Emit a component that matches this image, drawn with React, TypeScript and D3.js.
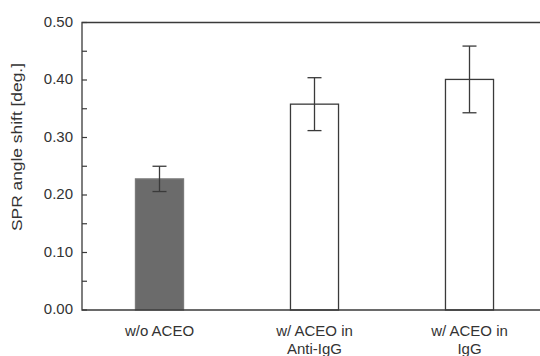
import React, { useRef, useEffect } from "react";
import * as d3 from "d3";

// данные с графика
const categories = [["w/o ACEO"], ["w/ ACEO in", "Anti-IgG"], ["w/ ACEO in", "IgG"]];
const values = [0.228, 0.358, 0.401];
const errors = [0.022, 0.046, 0.058];
const fills = ["#6b6b6b", "#ffffff", "#ffffff"];
const yTicks = [0, 0.1, 0.2, 0.3, 0.4, 0.5];

const App = () => {
    const svgRef = useRef<SVGSVGElement>(null);

    useEffect(() => {
        const svg = d3.select(svgRef.current);
        svg.selectAll("*").remove();

        const width = 540;
        const height = 356;
        const left = 82;
        const top = 22.5;
        const bottom = 310;
        const right = 547;
        const ink = "#3a3a3a";
        const font = "Arial, 'Liberation Sans', sans-serif";

        const x = d3.scaleLinear().domain([0.5, 3.5]).range([left, right]);
        const y = d3.scaleLinear().domain([0, 0.5]).range([bottom, top]);
        const barW = 0.31;

        svg.attr("width", width).attr("height", height);
        svg.append("rect").attr("width", width).attr("height", height).attr("fill", "#fff");

        // бары
        svg.append("g")
            .selectAll("rect")
            .data(values)
            .enter()
            .append("rect")
            .attr("x", (d, i) => x(i + 1 - barW / 2))
            .attr("y", d => y(d))
            .attr("width", x(1 + barW) - x(1))
            .attr("height", d => y(0) - y(d))
            .attr("fill", (d, i) => fills[i])
            .attr("stroke", (d, i) => (i === 0 ? "#7a7a7a" : ink))
            .attr("stroke-width", 1.3);

        // погрешности
        const eb = svg.append("g").attr("stroke", ink).attr("stroke-width", 1.3);
        values.forEach((v, i) => {
            const cx = x(i + 1);
            eb.append("line").attr("x1", cx).attr("x2", cx).attr("y1", y(v + errors[i])).attr("y2", y(v - errors[i]));
            [v + errors[i], v - errors[i]].forEach(e => {
                eb.append("line").attr("x1", cx - 7).attr("x2", cx + 7).attr("y1", y(e)).attr("y2", y(e));
            });
        });

        // рамка
        svg.append("path")
            .attr("d", `M${right},${bottom}H${left}V${top}H${right}`)
            .attr("fill", "none")
            .attr("stroke", ink)
            .attr("stroke-width", 1.3);

        // тики внутрь
        const ticks = svg.append("g").attr("stroke", ink).attr("stroke-width", 1.2);
        d3.range(0, 0.5001, 0.05).forEach(t => {
            ticks.append("line").attr("x1", left).attr("x2", left + 5).attr("y1", y(t)).attr("y2", y(t));
        });

        svg.append("g")
            .selectAll("text")
            .data(yTicks)
            .enter()
            .append("text")
            .attr("x", left - 9)
            .attr("y", d => y(d) - 1)
            .attr("dy", "0.35em")
            .attr("text-anchor", "end")
            .style("font-family", font)
            .style("font-size", "15px")
            .style("fill", "#333")
            .text(d => d.toFixed(2));

        svg.append("text")
            .attr("transform", `translate(22, 147) rotate(-90)`)
            .attr("text-anchor", "middle")
            .attr("textLength", 168)
            .attr("lengthAdjust", "spacingAndGlyphs")
            .style("font-family", font)
            .style("font-size", "15px")
            .style("fill", "#333")
            .text("SPR angle shift [deg.]");

        // подписи категорий
        categories.forEach((lines, i) => {
            const t = svg.append("text")
                .attr("text-anchor", "middle")
                .style("font-family", font)
                .style("font-size", "15px")
                .style("fill", "#333");
            lines.forEach((l, j) => {
                t.append("tspan").attr("x", x(i + 1)).attr("y", 336 + j * 18).text(l);
            });
        });
    }, []);

    return <svg ref={svgRef} style={{ position: "absolute", left: 0, top: 0 }}></svg>;
};

export default App;
